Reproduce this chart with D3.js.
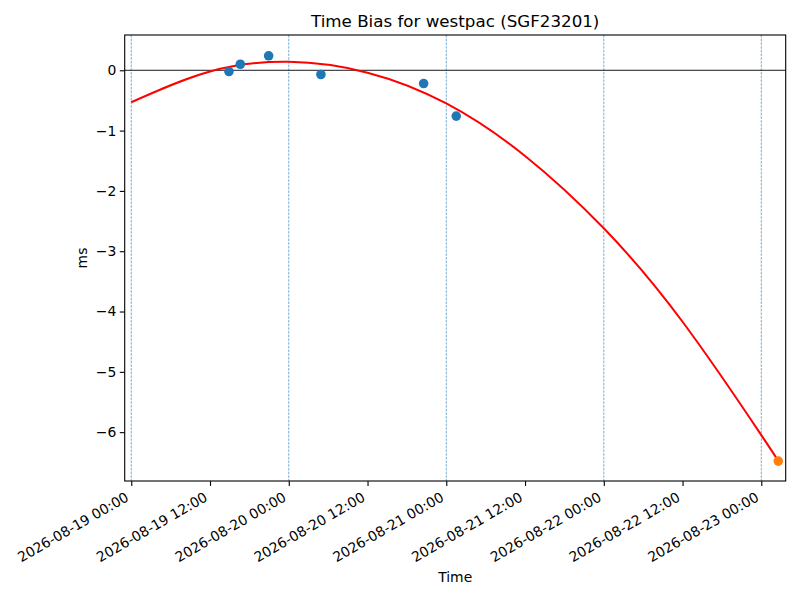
<!DOCTYPE html>
<html>
<head>
<meta charset="utf-8">
<script src="https://cdn.jsdelivr.net/npm/d3@7"></script>
<style>
  body { margin: 0; background: #fff; }
  svg, svg text { font-family: "DejaVu Sans", sans-serif; }
</style>
</head>
<body>
<svg id="chart" width="800" height="600"></svg>
<script>
// measured time bias samples (ms)
const sampleTimes = ["2026-08-19 14:53", "2026-08-19 16:37", "2026-08-19 20:56", "2026-08-20 04:54", "2026-08-20 20:33", "2026-08-21 01:31"];
const sampleBias = [-0.02, 0.10, 0.24, -0.07, -0.22, -0.76];

// predicted point
const predTime = ["2026-08-23 02:35"];
const predBias = [-6.48];

// quadratic fit
const fitTimes = ["2026-08-19 00:00", "2026-08-19 12:00", "2026-08-20 00:00", "2026-08-20 12:00", "2026-08-21 00:00",
                  "2026-08-21 12:00", "2026-08-22 00:00", "2026-08-22 12:00", "2026-08-23 00:00", "2026-08-23 02:35"];
const fitBias = [-0.53, -0.02, 0.14, -0.04, -0.55, -1.42, -2.62, -4.17, -6.05, -6.48];

// day markers (dashed verticals)
const dayMarks = ["2026-08-19 00:00", "2026-08-20 00:00", "2026-08-21 00:00", "2026-08-22 00:00", "2026-08-23 00:00"];

const xLimits = ["2026-08-18 23:00", "2026-08-23 03:43"];
const yLimits = [-6.81, 0.585];
const yTicks = [0, -1, -2, -3, -4, -5, -6];

const parse = d3.utcParse("%Y-%m-%d %H:%M");
const fmt = d3.utcFormat("%Y-%m-%d %H:%M");

const margin = { top: 35, right: 14.3, bottom: 119, left: 124.7 };
const width = 800 - margin.left - margin.right;
const height = 600 - margin.top - margin.bottom;

const svg = d3.select("#chart");
const g = svg.append("g").attr("transform", `translate(${margin.left},${margin.top})`);

const x = d3.scaleUtc().domain(xLimits.map(parse)).range([0, width]);
const y = d3.scaleLinear().domain(yLimits).range([height, 0]);

// vertical day lines
g.selectAll(".day").data(dayMarks).join("line")
    .attr("x1", d => x(parse(d))).attr("x2", d => x(parse(d)))
    .attr("y1", 0).attr("y2", height)
    .attr("stroke", "#1f77b4").attr("stroke-width", 0.7)
    .attr("stroke-dasharray", "2.6,1.1").attr("opacity", 0.85);

// zero line
g.append("line")
    .attr("x1", 0).attr("x2", width)
    .attr("y1", y(0)).attr("y2", y(0))
    .attr("stroke", "black").attr("stroke-width", 0.9);

// fit curve
const line = d3.line()
    .x((d, i) => x(parse(fitTimes[i])))
    .y(d => y(d))
    .curve(d3.curveNatural);
g.append("path")
    .attr("d", line(fitBias))
    .attr("fill", "none").attr("stroke", "red").attr("stroke-width", 2);

// samples
g.selectAll(".pt").data(sampleBias).join("circle")
    .attr("cx", (d, i) => x(parse(sampleTimes[i])))
    .attr("cy", d => y(d))
    .attr("r", 4.8).attr("fill", "#1f77b4");

g.selectAll(".pred").data(predBias).join("circle")
    .attr("cx", (d, i) => x(parse(predTime[i])))
    .attr("cy", d => y(d))
    .attr("r", 4.8).attr("fill", "#ff7f0e");

// axes
const xTickVals = d3.utcHour.every(12).range(parse("2026-08-19 00:00"), parse("2026-08-23 01:00"));
const xAxis = g.append("g").attr("transform", `translate(0,${height})`)
    .call(d3.axisBottom(x).tickValues(xTickVals).tickFormat(fmt).tickSize(4.9).tickPadding(3.5));
xAxis.selectAll("text")
    .attr("font-size", 13.9).attr("fill", "black")
    .attr("text-anchor", "end")
    .attr("dy", null).attr("y", 0)
    .attr("transform", "translate(-2,19) rotate(-30)");

const yAxis = g.append("g")
    .call(d3.axisLeft(y).tickValues(yTicks).tickFormat(d3.format("d")).tickSize(4.9).tickPadding(3.5));
yAxis.selectAll("text").attr("font-size", 13.9).attr("fill", "black");

[xAxis, yAxis].forEach(a => {
    a.attr("font-family", "DejaVu Sans");
    a.select(".domain").remove();
    a.selectAll(".tick line").attr("stroke", "black").attr("stroke-width", 1.1);
});

// frame
g.append("rect").attr("width", width).attr("height", height)
    .attr("fill", "none").attr("stroke", "black").attr("stroke-width", 1.1);

// labels
svg.append("text").attr("x", margin.left + width / 2).attr("y", 27)
    .attr("text-anchor", "middle").attr("font-size", 16.7)
    .text("Time Bias for westpac (SGF23201)");
svg.append("text").attr("x", margin.left + width / 2).attr("y", 582)
    .attr("text-anchor", "middle").attr("font-size", 13.9).text("Time");
svg.append("text")
    .attr("transform", `translate(87,${margin.top + height / 2}) rotate(-90)`)
    .attr("text-anchor", "middle").attr("font-size", 13.9).text("ms");
</script>
</body>
</html>
